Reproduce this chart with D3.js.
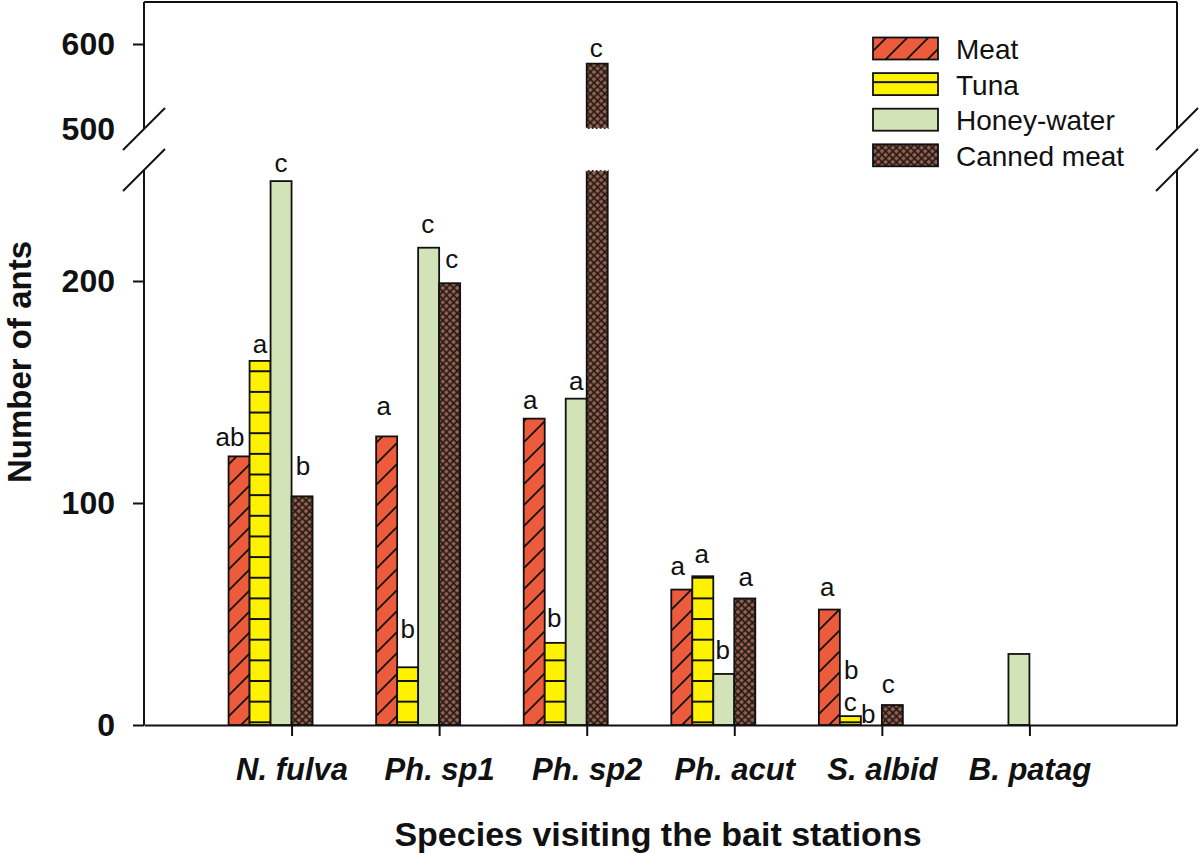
<!DOCTYPE html>
<html>
<head>
<meta charset="utf-8">
<script src="https://cdn.jsdelivr.net/npm/d3@7"></script>
<style>
  html, body { margin: 0; padding: 0; background: #fff; }
  svg { display: block; font-family: "Liberation Sans", Arial, sans-serif; }
</style>
</head>
<body>
<svg id="chart" width="1200" height="854"></svg>
<script>
// ---------------- data ----------------
const categories = ["N. fulva", "Ph. sp1", "Ph. sp2", "Ph. acut", "S. albid", "B. patag"];
const seriesNames = ["Meat", "Tuna", "Honey-water", "Canned meat"];
const meat   = [121, 130, 138, 61, 52, 0];
const tuna   = [164, 26, 37, 67, 4, 0];
const honey  = [245, 215, 147, 23, 0, 32];
const canned = [103, 199, 577, 57, 9, 0];
const meatLetters   = ["ab", "a", "a", "a", "a", ""];
const tunaLetters   = ["a", "b", "b", "a", "c", ""];
const honeyLetters  = ["c", "c", "a", "b", "b", ""];
const cannedLetters = ["b", "c", "c", "a", "c", ""];
const extraLetters  = [{ cat: "S. albid", series: "Tuna", text: "b" }];
const lowerTicks = [0, 100, 200];
const upperTicks = [500, 600];
const xTitle = "Species visiting the bait stations";
const yTitle = "Number of ants";

// ---------------- layout / style ----------------
const colors = { "Meat": "#EC5B3B", "Tuna": "#FFF200", "Honey-water": "#D3E3B8", "Canned meat": "#9C5E48" };
// letter nudges [dx, gap above bar top] in px (per series, per category)
const nudges = {
  "Meat":        [[-9, 10], [-3, 21], [-4, 10], [-4, 15], [-2, 14], [0, 0]],
  "Tuna":        [[0, 8], [0, 29], [-1, 16], [-1, 13], [0, 5], [0, 0]],
  "Honey-water": [[0, 9], [-1, 15], [0, 9], [-1, 15], [-3, 2], [0, 0]],
  "Canned meat": [[1, 21], [2, 15], [-1, 7], [1, 12], [-4, 12], [0, 0]]
};
const extraNudges = [[1, 37]];

const L = 144, R = 1177, T = 2, B = 725;
const breakUpper = 129, breakLower = 170;

const svg = d3.select("#chart");
const x = d3.scaleLinear().domain([0, 7]).range([L, R]);
const sub = d3.scaleBand().domain(seriesNames).range([-63, 21]).padding(0);
const yLow = d3.scaleLinear().domain([0, 250]).range([B, breakLower]);
const yUp = d3.scaleLinear().domain([500, 650]).range([breakUpper, T - 0.5]);

const seriesData = {
  "Meat": { values: meat, letters: meatLetters },
  "Tuna": { values: tuna, letters: tunaLetters },
  "Honey-water": { values: honey, letters: honeyLetters },
  "Canned meat": { values: canned, letters: cannedLetters }
};

// ---------------- patterns ----------------
const defs = svg.append("defs");
const pMeat = defs.append("pattern").attr("id", "pat-Meat")
  .attr("patternUnits", "userSpaceOnUse").attr("width", 21).attr("height", 21);
pMeat.append("rect").attr("width", 21).attr("height", 21).attr("fill", colors["Meat"]);
pMeat.append("path").attr("d", "M0,21L21,0M-4,4L4,-4M17,25L25,17")
  .attr("stroke", "#111").attr("stroke-width", 1.8);

const pTuna = defs.append("pattern").attr("id", "pat-Tuna")
  .attr("patternUnits", "userSpaceOnUse").attr("x", 0).attr("y", 722.3)
  .attr("width", 10).attr("height", 20.65);
pTuna.append("rect").attr("width", 10).attr("height", 20.65).attr("fill", colors["Tuna"]);
pTuna.append("path").attr("d", "M0,0H10M0,20.65H10").attr("stroke", "#111").attr("stroke-width", 2);

const pHoney = defs.append("pattern").attr("id", "pat-Honey-water")
  .attr("patternUnits", "userSpaceOnUse").attr("width", 10).attr("height", 10);
pHoney.append("rect").attr("width", 10).attr("height", 10).attr("fill", colors["Honey-water"]);

const cs = 7.2;
const pCan = defs.append("pattern").attr("id", "pat-Canned-meat")
  .attr("patternUnits", "userSpaceOnUse").attr("width", cs).attr("height", cs);
pCan.append("rect").attr("width", cs).attr("height", cs).attr("fill", colors["Canned meat"]);
pCan.append("path").attr("d", `M0,0L${cs},${cs}M${cs},0L0,${cs}`)
  .attr("stroke", "#1a1a1a").attr("stroke-width", 1.6);

const patId = s => "url(#pat-" + s.replace(" ", "-") + ")";

// ---------------- bars ----------------
const gBars = svg.append("g");
const barW = sub.bandwidth();
const flat = [];
seriesNames.forEach(s => {
  seriesData[s].values.forEach((v, i) => flat.push({ s, i, v, letter: seriesData[s].letters[i] }));
});

flat.filter(d => d.v > 0).forEach(d => {
  const x0 = x(d.i + 1) + sub(d.s);
  if (d.v <= 250) {
    gBars.append("rect").attr("x", x0).attr("y", yLow(d.v))
      .attr("width", barW).attr("height", yLow(0) - yLow(d.v))
      .attr("fill", patId(d.s)).attr("stroke", "#111").attr("stroke-width", 1.8);
  } else {
    const lowTop = yLow(250), upTop = yUp(d.v), upBot = yUp(500);
    gBars.append("rect").attr("x", x0).attr("y", lowTop)
      .attr("width", barW).attr("height", yLow(0) - lowTop).attr("fill", patId(d.s));
    gBars.append("path")
      .attr("d", `M${x0},${lowTop}V${yLow(0)}H${x0 + barW}V${lowTop}`)
      .attr("fill", "none").attr("stroke", "#111").attr("stroke-width", 1.8);
    gBars.append("rect").attr("x", x0).attr("y", upTop)
      .attr("width", barW).attr("height", upBot - upTop).attr("fill", patId(d.s));
    gBars.append("path")
      .attr("d", `M${x0},${upBot}V${upTop}H${x0 + barW}V${upBot}`)
      .attr("fill", "none").attr("stroke", "#111").attr("stroke-width", 1.8);
    [upBot, lowTop].forEach(yy => {
      gBars.append("line").attr("x1", x0 - 1).attr("x2", x0 + barW + 1)
        .attr("y1", yy).attr("y2", yy)
        .attr("stroke", "#fff").attr("stroke-width", 2.5).attr("stroke-dasharray", "2,2");
    });
  }
});

// ---------------- letters ----------------
const gLet = svg.append("g").attr("font-size", 26).attr("text-anchor", "middle").attr("fill", "#111");
const topOf = v => (v > 250 ? yUp(v) : yLow(v));
flat.filter(d => d.letter).forEach(d => {
  const [dx, gap] = nudges[d.s][d.i];
  gLet.append("text")
    .attr("x", x(d.i + 1) + sub(d.s) + barW / 2 + dx)
    .attr("y", topOf(d.v) - gap)
    .text(d.letter);
});
extraLetters.forEach((e, k) => {
  const i = categories.indexOf(e.cat);
  const v = seriesData[e.series].values[i];
  const [dx, gap] = extraNudges[k];
  gLet.append("text")
    .attr("x", x(i + 1) + sub(e.series) + barW / 2 + dx)
    .attr("y", topOf(v) - gap)
    .text(e.text);
});

// ---------------- frame / axes ----------------
const gF = svg.append("g").attr("stroke", "#111").attr("stroke-width", 2).attr("fill", "none");
gF.append("path").attr("d", `M${L},${T}H${R}`);
[L, R].forEach(xx => {
  gF.append("path").attr("d", `M${xx},${T}V${breakUpper}M${xx},${breakLower}V${B}`);
  [breakUpper, breakLower].forEach(yy => {
    gF.append("path").attr("d", `M${xx - 21},${yy + 21}L${xx + 21},${yy - 21}`);
  });
});

// y axes
const fmt = d3.format("d");
const yAxLow = svg.append("g").attr("transform", `translate(${L},0)`)
  .call(d3.axisLeft(yLow).tickValues(lowerTicks).tickSize(11).tickSizeOuter(0).tickPadding(18).tickFormat(fmt));
const yAxUp = svg.append("g").attr("transform", `translate(${L},0)`)
  .call(d3.axisLeft(yUp).tickValues(upperTicks).tickSize(11).tickSizeOuter(0).tickPadding(18).tickFormat(fmt));
[yAxLow, yAxUp].forEach(g => {
  g.select(".domain").remove();
  g.selectAll(".tick line").attr("stroke", "#111").attr("stroke-width", 2);
  g.selectAll(".tick text").attr("font-size", 32).attr("font-weight", "bold")
    .attr("fill", "#111").attr("font-family", "'Liberation Sans', Arial, sans-serif");
});
yAxUp.selectAll(".tick").filter(d => d === 500).select("line").remove();

// x axis
const xAx = svg.append("g").attr("transform", `translate(0,${B})`)
  .call(d3.axisBottom(x).tickValues(d3.range(1, categories.length + 1))
    .tickSize(11).tickSizeOuter(0).tickFormat(i => categories[i - 1]));
xAx.select(".domain").attr("stroke", "#111").attr("stroke-width", 2);
xAx.selectAll(".tick line").attr("stroke", "#111").attr("stroke-width", 2);
xAx.selectAll(".tick text").attr("y", 55).attr("dy", 0)
  .attr("font-size", 31).attr("font-weight", "bold").attr("font-style", "italic")
  .attr("fill", "#111").attr("font-family", "'Liberation Sans', Arial, sans-serif");

// titles
svg.append("text").attr("x", 658).attr("y", 846).attr("text-anchor", "middle")
  .attr("font-size", 34).attr("font-weight", "bold").attr("fill", "#111").text(xTitle);
svg.append("text").attr("transform", "translate(31,362) rotate(-90)").attr("text-anchor", "middle")
  .attr("font-size", 33).attr("font-weight", "bold").attr("fill", "#111").text(yTitle);

// ---------------- legend ----------------
const gLeg = svg.append("g");
seriesNames.forEach((s, k) => {
  const top = 37.5 + k * 35.6;
  gLeg.append("rect").attr("x", 873).attr("y", top).attr("width", 65).attr("height", 22)
    .attr("fill", patId(s)).attr("stroke", "#111").attr("stroke-width", 1.8);
  gLeg.append("text").attr("x", 956).attr("y", top + 21.5)
    .attr("font-size", 28).attr("fill", "#111").text(s);
});
</script>
</body>
</html>
